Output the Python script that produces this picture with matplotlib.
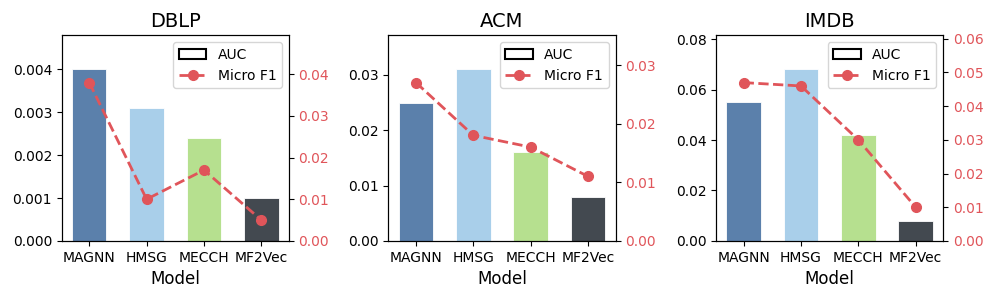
import matplotlib
matplotlib.use("Agg")
import matplotlib.pyplot as plt
from matplotlib.patches import Patch
from matplotlib.lines import Line2D

models = ["MAGNN", "HMSG", "MECCH", "MF2Vec"]
datasets = ["DBLP", "ACM", "IMDB"]

# AUC (bars, left axis)
auc_dblp = [0.0040, 0.0031, 0.0024, 0.0010]
auc_acm = [0.025, 0.031, 0.016, 0.008]
auc_imdb = [0.055, 0.068, 0.042, 0.008]

# Micro F1 (line, right axis)
f1_dblp = [0.038, 0.010, 0.017, 0.005]
f1_acm = [0.027, 0.018, 0.016, 0.011]
f1_imdb = [0.047, 0.046, 0.030, 0.010]

auc_all = [auc_dblp, auc_acm, auc_imdb]
f1_all = [f1_dblp, f1_acm, f1_imdb]

bar_colors = ["#5b80ab", "#a9cfea", "#b6e08f", "#434950"]
red = "#e0555a"

fig = plt.figure(figsize=(9.96, 3.0), dpi=100)
lefts = [0.062, 0.390, 0.719]

for i, name in enumerate(datasets):
    ax = fig.add_axes([lefts[i], 0.197, 0.228, 0.686])
    x = range(len(models))
    ax.bar(x, auc_all[i], width=0.6, color=bar_colors, edgecolor="white", linewidth=0.6)
    ax.set_ylim(0, max(auc_all[i]) * 1.2)
    ax.set_xticks(list(x))
    ax.set_xticklabels(models, fontsize=10)
    ax.tick_params(axis="y", labelsize=10)
    ax.set_xlabel("Model", fontsize=12)
    ax.set_title(name, fontsize=14)

    ax2 = ax.twinx()
    ax2.plot(x, f1_all[i], color=red, linestyle="--", linewidth=2, marker="o", markersize=7)
    ax2.set_ylim(0, max(f1_all[i]) * 1.3)
    ax2.tick_params(axis="y", colors=red, labelsize=10)
    ax2.tick_params(axis="y", color="black")

    handles = [Patch(facecolor="white", edgecolor="black", linewidth=1.5, label="AUC"),
               Line2D([0], [0], color=red, linestyle="--", linewidth=2, marker="o", markersize=7, label="Micro F1")]
    ax2.legend(handles=handles, loc="upper right", fontsize=10)

fig.savefig("out.png", dpi=100)
